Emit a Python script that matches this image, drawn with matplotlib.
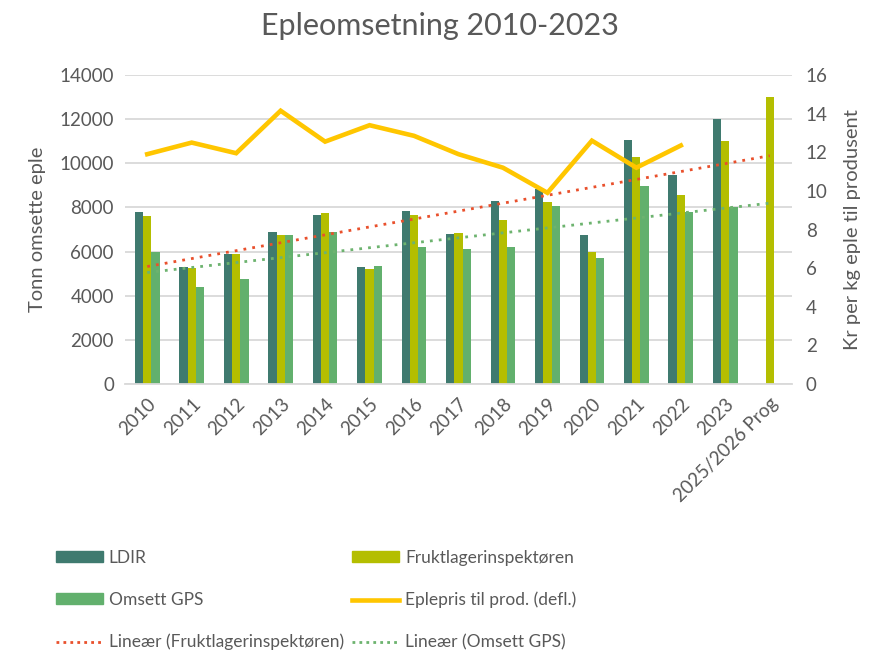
import numpy as np
import matplotlib.pyplot as plt
from matplotlib.patches import Patch
from matplotlib.lines import Line2D

plt.rcParams['font.family'] = ['Lato', 'DejaVu Sans']

# Data
years = ["2010", "2011", "2012", "2013", "2014", "2015", "2016", "2017",
         "2018", "2019", "2020", "2021", "2022", "2023", "2025/2026 Prog"]
ldir = [7800, 5300, 5900, 6900, 7650, 5300, 7850, 6800,
        8300, 8850, 6750, 11050, 9450, 12000, np.nan]
frukt = [7600, 5250, 5900, 6750, 7750, 5200, 7650, 6850,
         7450, 8250, 6000, 10300, 8550, 11000, 13000]
gps = [6000, 4400, 4750, 6750, 6900, 5350, 6200, 6100,
       6200, 8050, 5700, 8950, 7800, 8000, np.nan]
pris = [11.9, 12.5, 11.95, 14.15, 12.55, 13.4, 12.85, 11.9,
        11.2, 9.9, 12.6, 11.2, 12.35, np.nan, np.nan]

c_ldir = "#3F7A6F"
c_frukt = "#B4BE00"
c_gps = "#62B06D"
c_pris = "#FFC600"
c_red = "#E9502C"
c_green = "#6DB36F"
c_text = "#595959"
c_grid = "#D9D9D9"

x = np.arange(len(years))
w = 0.185

# linear trendlines (as Excel draws them)
def trend(vals):
    v = np.array(vals, dtype=float)
    ok = ~np.isnan(v)
    k, m = np.polyfit(x[ok], v[ok], 1)
    return k * x + m

fig = plt.figure(figsize=(8.74, 6.52), dpi=100)
ax = fig.add_axes([125/874, 1-384/652, (792-125)/874, (384-75)/652])

ax.bar(x - w, ldir, w, color=c_ldir, zorder=2)
ax.bar(x, frukt, w, color=c_frukt, zorder=2)
ax.bar(x + w, gps, w, color=c_gps, zorder=2)
ax.plot(x, trend(frukt), color=c_red, lw=2, ls=(0, (1, 2.2)), zorder=3)
ax.plot(x, trend(gps), color=c_green, lw=2, ls=(0, (1, 2.2)), zorder=3)

ax.set_xlim(-0.5, len(years) - 0.5)
ax.set_ylim(0, 14000)
ax.set_yticks(range(0, 14001, 2000))
ax.grid(axis='y', color=c_grid, lw=1.3, zorder=0)
ax.set_axisbelow(True)
for s in ['top', 'right', 'left']:
    ax.spines[s].set_visible(False)
ax.spines['bottom'].set_color(c_grid)
ax.spines['bottom'].set_linewidth(1.3)
ax.tick_params(length=0, labelsize=13.5, colors=c_text, pad=8)
ax.set_xticks(x)
ax.set_xticklabels(years, rotation=45, ha='right', rotation_mode='anchor')
ax.set_ylabel("Tonn omsette eple", fontsize=14.5, color=c_text, labelpad=10)

ax2 = ax.twinx()
ax2.plot(x, pris, color=c_pris, lw=3.3, solid_joinstyle='miter', zorder=4)
ax2.set_ylim(0, 16)
ax2.set_yticks(range(0, 17, 2))
for s in ax2.spines.values():
    s.set_visible(False)
ax2.tick_params(length=0, labelsize=13.5, colors=c_text, pad=10)
ax2.set_ylabel("Kr per kg eple til produsent", fontsize=14.5, color=c_text, labelpad=12)

fig.text(0.503, 1-26/652, "Epleomsetning 2010-2023", ha='center', va='center',
         fontsize=22, color=c_text)

# legend, filled column by column
handles = [
    Patch(color=c_ldir), Patch(color=c_gps),
    Line2D([], [], color=c_red, lw=2, ls=(0, (1, 1.5))),
    Patch(color=c_frukt),
    Line2D([], [], color=c_pris, lw=3.3),
    Line2D([], [], color=c_green, lw=2, ls=(0, (1, 1.5))),
]
labels = ["LDIR", "Omsett GPS", "Lineær (Fruktlagerinspektøren)",
          "Fruktlagerinspektøren", "Eplepris til prod. (defl.)", "Lineær (Omsett GPS)"]
fig.legend(handles, labels, ncol=2, loc='upper left',
           bbox_to_anchor=(40/874, 1-534/652), frameon=False,
           fontsize=12.5, labelcolor=c_text, handlelength=2.7, handleheight=0.55,
           handletextpad=0.35, columnspacing=0.5, labelspacing=1.5)

fig.savefig("out.png", dpi=100)
